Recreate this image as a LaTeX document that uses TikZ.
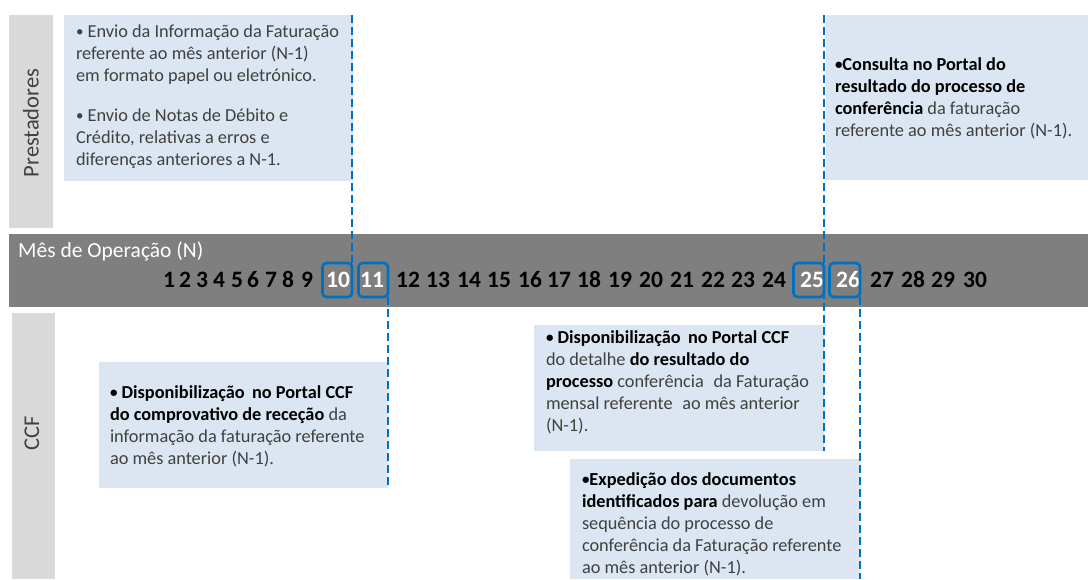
\documentclass[tikz,border=0pt]{standalone}
\usepackage{fontspec}
\setmainfont{Carlito}
\definecolor{bandgray}{HTML}{7F7F7F}
\definecolor{lanegray}{HTML}{D9D9D9}
\definecolor{infofill}{HTML}{DCE6F2}
\definecolor{accent}{HTML}{0070C0}
\definecolor{txt}{HTML}{404040}
\newcommand{\bd}[1]{\textbf{\color{black}#1}}
\newcommand{\bul}{\raisebox{0.05ex}{\fontsize{15}{15}\selectfont•}}
\begin{document}
\begin{tikzpicture}[x=1pt,y=-1pt,
  rect/.style={draw=none,inner sep=0pt,outer sep=0pt,anchor=north west},
  lane/.style={rect,fill=lanegray},
  info/.style={rect,fill=infofill},
  band/.style={rect,fill=bandgray},
  lanelabel/.style={rotate=90,text=txt,font=\fontsize{22.5}{26}\selectfont,inner sep=0pt},
  daynum/.style={anchor=base,inner sep=0pt,font=\bfseries\fontsize{23.5}{26}\selectfont,text=black},
  hinum/.style={daynum,text=white},
  daybox/.style={draw=accent,line width=2.6pt,rounded corners=4pt,inner sep=0pt,outer sep=0pt,fill=none,minimum height=34pt},
  guide/.style={draw=accent,line width=2.5pt,dash pattern=on 8pt off 4pt},
  infotxt/.style={anchor=base west,inner sep=0pt,outer sep=0pt,text=txt,font=\fontsize{18.3}{22}\selectfont}
]
\useasboundingbox (0,0) rectangle (1088,579);
\fill[white] (0,0) rectangle (1088,579);

% lanes
\node[lane,minimum width=44pt,minimum height=213pt] (lp) at (9,15) {};
\node[lane,minimum width=43pt,minimum height=266pt] (lc) at (12,313) {};
\node[lanelabel] (lpt) at (31,123) {Prestadores};
\node[lanelabel] (lct) at (32,433) {CCF};

% info boxes
\node[info,minimum width=289pt,minimum height=166pt] (p1) at (64,15) {};
\node[info,minimum width=262pt,minimum height=165pt] (p2) at (826,15) {};
\node[info,minimum width=289pt,minimum height=126pt] (c1) at (99,362) {};
\node[info,minimum width=290pt,minimum height=126pt] (c2) at (534,325) {};
\node[info,minimum width=290pt,minimum height=120pt] (c3) at (570,459) {};

% texts
\node[infotxt] (t1) at (76,37) {\parbox[t]{280pt}{\bul{} Envio da Informação da Faturação\\referente ao mês anterior (N-1)\\em formato papel ou eletrónico.\\[18pt]\bul{} Envio de Notas de Débito e\\Crédito, relativas a erros e\\diferenças anteriores a N-1.}};
\node[infotxt] (t2) at (835,70) {\parbox[t]{250pt}{\bd{\bul Consulta no Portal do}\\\bd{resultado do processo de}\\\bd{conferência} da faturação\\referente ao mês anterior (N-1).}};
\node[infotxt] (t3) at (110,398) {\parbox[t]{280pt}{\bd{\bul{} Disponibilização\hspace{0.4em}no Portal CCF}\\\bd{do comprovativo de receção} da\\informação da faturação referente\\ao mês anterior (N-1).}};
\node[infotxt] (t4) at (546,343) {\parbox[t]{280pt}{\bd{\bul{} Disponibilização\hspace{0.4em}no Portal CCF}\\do detalhe \bd{do resultado do}\\\bd{processo} conferência\hspace{0.3em} da Faturação\\mensal referente\hspace{0.3em} ao mês anterior\\(N-1).}};
\node[infotxt] (t5) at (582,485) {\parbox[t]{280pt}{\bd{\bul Expedição dos documentos}\\\bd{identificados para} devolução em\\sequência do processo de\\conferência da Faturação referente\\ao mês anterior (N-1).}};

% timeline band
\node[band,minimum width=1079pt,minimum height=73pt] (band) at (9,234) {};
\node[anchor=base west,inner sep=0pt,text=white,font=\fontsize{21.5}{24}\selectfont] (title) at (18,257) {Mês de Operação (N)};

\foreach \n/\x in {1/169,2/185,3/202,4/219,5/237,6/253,7/271,8/288,9/307,
  12/408,13/438,14/469,15/499,16/530,17/559,18/589,19/620,20/651,21/682,
  22/713,23/743,24/774,27/882,28/913,29/943,30/975}
  \node[daynum] (n\n) at (\x,287) {\n};
\node[hinum] (n10) at (338,287) {10};
\node[hinum] (n11) at (372,287) {11};
\node[hinum] (n25) at (812,287) {25};
\node[hinum] (n26) at (848,287) {26};

\node[daybox,minimum width=29.5pt] (d10) at (337.25,280) {};
\node[daybox,minimum width=29.5pt] (d11) at (373.25,280) {};
\node[daybox,minimum width=30.5pt] (d25) at (808.75,280) {};
\node[daybox,minimum width=30.5pt] (d26) at (844.75,280) {};

% guide lines
\coordinate (endD) at (860,579);
\draw[guide] (d10.north east |- p1.north east) -- (d10.north east);
\draw[guide] (d11.south east) -- (d11.south east |- c1.south east);
\draw[guide] (d25.north east |- p2.north west) -- (d25.north east |- c2.south east);
\draw[guide] (d26.south east) -- (d26.south east |- endD);
\end{tikzpicture}
\end{document}
